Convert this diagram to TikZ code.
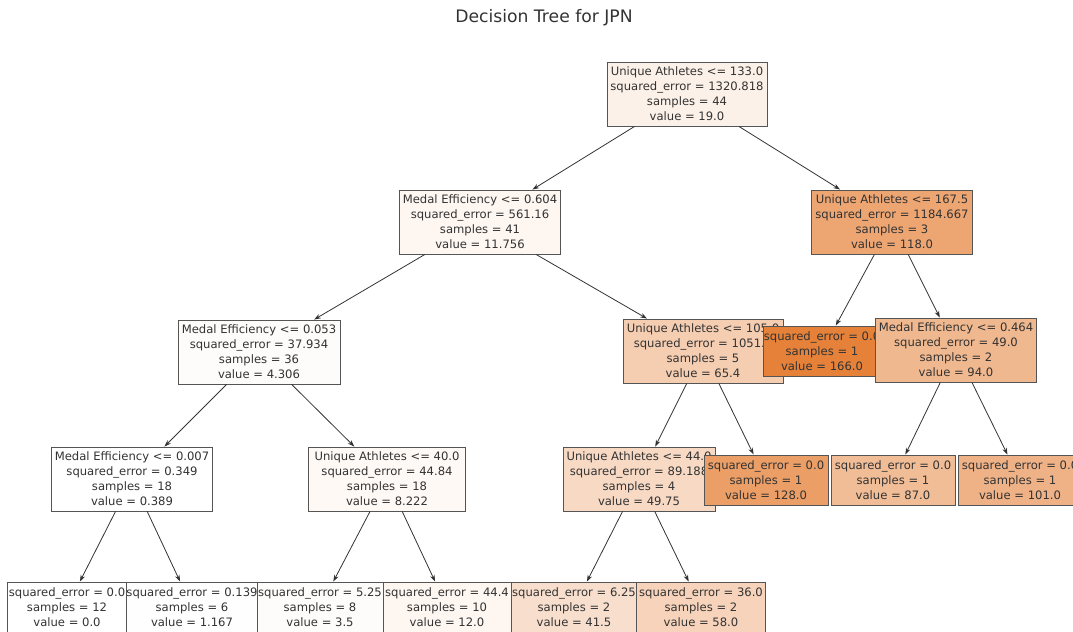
\documentclass[tikz,border=0pt]{standalone}
\usepackage{fontspec}
\setmainfont{DejaVu Sans}
\usetikzlibrary{arrows.meta}
\definecolor{treeorange}{RGB}{229,129,57}
\definecolor{inkgray}{RGB}{51,51,51}
\definecolor{framegray}{RGB}{85,85,85}
\begin{document}
\begin{tikzpicture}[x=0.75pt,y=-0.75pt]
  \tikzset{
    nodebox/.style={draw=framegray,line width=0.7pt,text=inkgray,align=center,inner sep=0pt,
      font=\fontsize{8.7}{11.2}\selectfont},
    splitbox/.style={nodebox,minimum height=48pt},
    leafbox/.style={nodebox,minimum height=37.5pt},
    boxw/.style={minimum width=#1*0.75pt},
    tone/.style={fill=treeorange!#1!white},
    treestep/.style={-{Stealth[length=5pt,width=3.5pt]},draw=inkgray,line width=0.6pt},
  }
  \useasboundingbox (0,0) rectangle (1073,631);
  \clip (0,0) rectangle (1073,631);
  \node[text=inkgray,font=\fontsize{12.9}{15}\selectfont] (title) at (544,18) {Decision Tree for JPN};
  % nodes in the order the tree is walked, so later boxes lie on top
  \node[splitbox,boxw=160,tone=11.4] (n0) at (687,94) {Unique Athletes <= 133.0\\squared\_error = 1320.818\\samples = 44\\value = 19.0};
  \node[splitbox,boxw=161,tone=7.1] (n1) at (480,222) {Medal Efficiency <= 0.604\\squared\_error = 561.16\\samples = 41\\value = 11.756};
  \node[splitbox,boxw=162,tone=2.6] (n2) at (259,352) {Medal Efficiency <= 0.053\\squared\_error = 37.934\\samples = 36\\value = 4.306};
  \node[splitbox,boxw=161,tone=0.2] (n3) at (132,479) {Medal Efficiency <= 0.007\\squared\_error = 0.349\\samples = 18\\value = 0.389};
  \node[leafbox,boxw=120,tone=0] (n4) at (67,607) {squared\_error = 0.0\\samples = 12\\value = 0.0};
  \node[leafbox,boxw=130,tone=0.7] (n5) at (192,607) {squared\_error = 0.139\\samples = 6\\value = 1.167};
  \node[splitbox,boxw=157,tone=5.0] (n6) at (387,479) {Unique Athletes <= 40.0\\squared\_error = 44.84\\samples = 18\\value = 8.222};
  \node[leafbox,boxw=126,tone=2.1] (n7) at (320,607) {squared\_error = 5.25\\samples = 8\\value = 3.5};
  \node[leafbox,boxw=128,tone=7.2] (n8) at (447,607) {squared\_error = 44.4\\samples = 10\\value = 12.0};
  \node[splitbox,boxw=160,tone=39.4] (n9) at (703,351) {Unique Athletes <= 105.0\\squared\_error = 1051.0\\samples = 5\\value = 65.4};
  \node[splitbox,boxw=152,tone=30.0] (n10) at (639,479) {Unique Athletes <= 44.0\\squared\_error = 89.188\\samples = 4\\value = 49.75};
  \node[leafbox,boxw=126,tone=25.0] (n11) at (574,607) {squared\_error = 6.25\\samples = 2\\value = 41.5};
  \node[leafbox,boxw=129,tone=34.9] (n12) at (701,607) {squared\_error = 36.0\\samples = 2\\value = 58.0};
  \node[leafbox,boxw=124,tone=77.1] (n13) at (766,480) {squared\_error = 0.0\\samples = 1\\value = 128.0};
  \node[splitbox,boxw=161,tone=71.1] (n14) at (892,222) {Unique Athletes <= 167.5\\squared\_error = 1184.667\\samples = 3\\value = 118.0};
  \node[leafbox,boxw=109,tone=100] (n15) at (822,351) {squared\_error = 0.0\\samples = 1\\value = 166.0};
  \node[splitbox,boxw=161,tone=56.6] (n16) at (956,350) {Medal Efficiency <= 0.464\\squared\_error = 49.0\\samples = 2\\value = 94.0};
  \node[leafbox,boxw=124,tone=52.4] (n17) at (893,480) {squared\_error = 0.0\\samples = 1\\value = 87.0};
  \node[leafbox,boxw=124,tone=60.8] (n18) at (1020,480) {squared\_error = 0.0\\samples = 1\\value = 101.0};
  % connectors
  \draw[treestep] (n0) edge (n1);
  \draw[treestep] (n0) edge (n14);
  \draw[treestep] (n1) edge (n2);
  \draw[treestep] (n1) edge (n9);
  \draw[treestep] (n2) edge (n3);
  \draw[treestep] (n2) edge (n6);
  \draw[treestep] (n3) edge (n4);
  \draw[treestep] (n3) edge (n5);
  \draw[treestep] (n6) edge (n7);
  \draw[treestep] (n6) edge (n8);
  \draw[treestep] (n9) edge (n10);
  \draw[treestep] (n9) edge (n13);
  \draw[treestep] (n10) edge (n11);
  \draw[treestep] (n10) edge (n12);
  \draw[treestep] (n14) edge (n15);
  \draw[treestep] (n14) edge (n16);
  \draw[treestep] (n16) edge (n17);
  \draw[treestep] (n16) edge (n18);
\end{tikzpicture}
\end{document}
